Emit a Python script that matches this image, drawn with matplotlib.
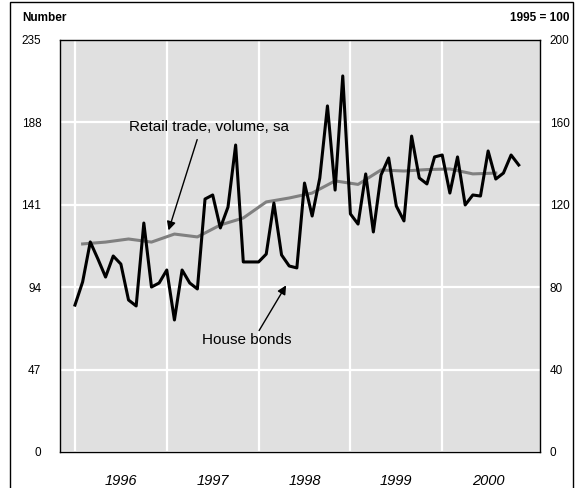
import numpy as np
import matplotlib.pyplot as plt
from matplotlib.patches import Rectangle

plt.rcParams['font.family'] = ['Liberation Sans', 'DejaVu Sans']

# House bonds, monthly, Jan 1996 - Nov 2000 (left axis, number)
house_bonds = [83.8, 97.0, 119.8, 110.1, 99.8, 111.8, 107.2, 86.7, 83.3, 130.6, 94.1, 96.4,
               103.8, 75.3, 103.8, 96.4, 93.0, 144.3, 146.6, 127.8, 139.7, 175.1, 108.4, 108.4,
               108.4, 112.9, 142.0, 112.4, 106.1, 105.0, 153.4, 134.6, 156.3, 197.4, 149.4, 214.5,
               135.8, 130.0, 158.6, 125.5, 158.0, 167.7, 140.3, 131.8, 180.2, 156.3, 152.9, 168.3,
               169.4, 147.7, 168.3, 140.9, 146.6, 146.0, 171.7, 155.7, 159.1, 169.4, 163.7]
hb_x = 1996 + np.arange(len(house_bonds)) / 12

# Retail trade volume, quarterly, 1995 = 100 (right axis), plotted mid-quarter
retail = [101.0, 101.9, 103.4, 101.9, 105.8, 104.4, 110.2, 113.6, 121.4, 123.3,
          125.7, 131.6, 129.9, 136.9, 136.4, 137.1, 137.4, 135.0, 135.4]
rt_x = 1996 + 1 / 12 + np.arange(len(retail)) * 0.25

years = [1996, 1997, 1998, 1999, 2000]

fig = plt.figure(figsize=(5.76, 4.88), dpi=100)
ax = fig.add_axes([60 / 576, 1 - 452 / 488, 480 / 576, 412 / 488])
ax2 = ax.twinx()

ax.set_xlim(1995.837, 2001.065)
ax.set_ylim(0, 235)
ax2.set_ylim(0, 200)

ax.set_yticks([0, 47, 94, 141, 188, 235])
ax2.set_yticks([0, 40, 80, 120, 160, 200])
ax.set_xticks(years)
ax.set_xticklabels([])
ax.set_xticks([y + 0.5 for y in years], minor=True)
ax.set_xticklabels([str(y) for y in years], minor=True, fontsize=10.5, style='italic')
ax.tick_params(axis='x', which='both', length=0)
ax.tick_params(axis='x', which='minor', pad=16)
ax.tick_params(axis='y', length=0, pad=13.5, labelsize=8.5)
ax2.tick_params(axis='y', length=0, pad=7, labelsize=8.5)

# background and grid live on the lower (right-hand) axes so the lines sit on top
ax.patch.set_visible(False)
ax.set_zorder(ax2.get_zorder() + 1)
ax2.patch.set_visible(True)
ax2.patch.set_facecolor('#e0e0e0')
ax2.set_axisbelow(True)
ax2.grid(True, axis='y', color='white', lw=1.6)
for yr in years:
    ax2.axvline(yr, color='white', lw=1.6, zorder=0.5)
ax.grid(False)
for s in ax.spines.values():
    s.set_linewidth(1)
for s in ax2.spines.values():
    s.set_visible(False)

ax2.plot(rt_x, retail, color='#808080', lw=2.2)
ax.plot(hb_x, house_bonds, color='black', lw=2.2)

arrow = dict(arrowstyle='-|>', color='black', lw=1, mutation_scale=13)
ax.text(1997.46, 185.4, 'Retail trade, volume, sa', ha='center', va='center', fontsize=11)
ax.annotate('', xy=(1997.01, 124.9), xytext=(1997.34, 179.7), arrowprops=arrow)
ax.text(1997.875, 63.9, 'House bonds', ha='center', va='center', fontsize=11)
ax.annotate('', xy=(1998.315, 96.4), xytext=(1997.99, 67.9), arrowprops=arrow)

fig.text(22 / 576, 1 - 18 / 488, 'Number', fontsize=8.5, fontweight='bold', va='center')
fig.text(570 / 576, 1 - 18 / 488, '1995 = 100', fontsize=8.5, fontweight='bold',
         va='center', ha='right')
fig.patches.append(Rectangle((10 / 576, -0.02), 563 / 576, 1.02 - 2 / 488,
                             transform=fig.transFigure, fill=False, lw=1, color='black'))

fig.savefig('out.png')
